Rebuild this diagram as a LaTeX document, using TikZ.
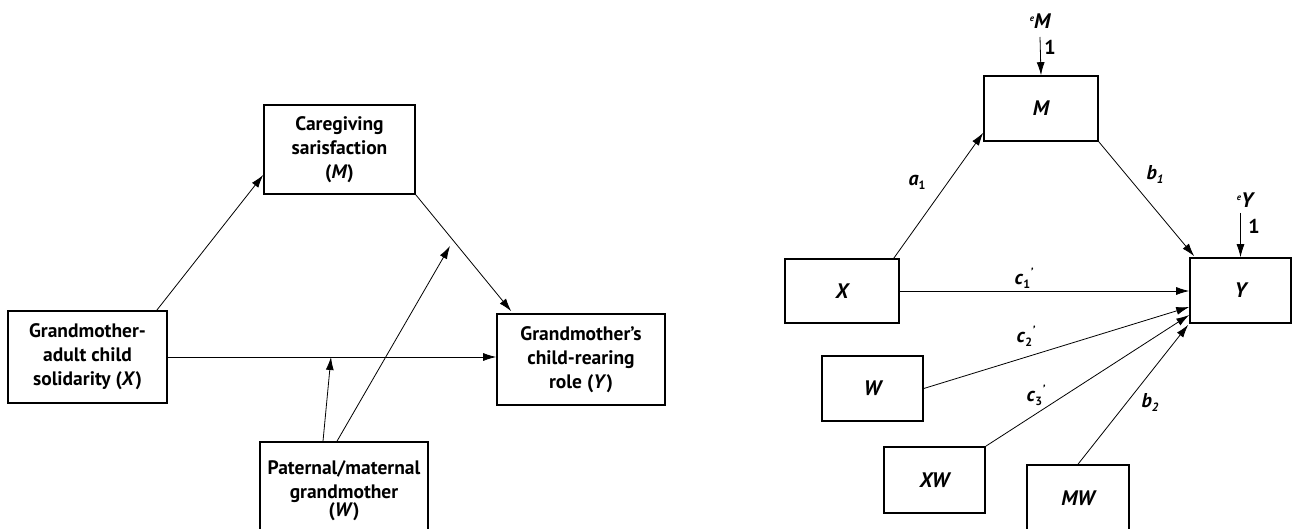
\documentclass[tikz,border=0pt]{standalone}
\usepackage{fontspec}
\setmainfont{PT Sans}
\usetikzlibrary{arrows.meta,calc}
\newcommand{\lbsub}[2]{\textit{#1}\raisebox{-4pt}{\fontsize{12}{12}\selectfont #2}}
\newcommand{\lbsubp}[2]{\textit{#1}\raisebox{-4pt}{\fontsize{12}{12}\selectfont #2}\raisebox{8pt}{\fontsize{12}{12}\selectfont\textit{'}}}
\begin{document}
\begin{tikzpicture}[x=1pt,y=-1pt,
  box/.style={draw,line width=1.6pt,rectangle,inner sep=0pt,align=center,
    font=\fontsize{19.5}{24}\selectfont\bfseries},
  rbox/.style={draw,line width=1.6pt,rectangle,inner sep=0pt,align=center,
    font=\fontsize{21}{24}\selectfont\bfseries\itshape},
  arr/.style={line width=0.8pt,-{Latex[length=13pt,width=8pt]}},
  lab/.style={inner sep=0pt,font=\fontsize{20}{22}\selectfont\bfseries}
]
\useasboundingbox (0,0) rectangle (1315,529);
\clip (0,0) rectangle (1315,529);

% ---------- left panel ----------
\node[box,minimum width=159pt,minimum height=92pt] (X) at (87.5,357)
  {Grandmother-\\adult child\\solidarity (\textit{X})};
\node[box,minimum width=151pt,minimum height=89pt] (M) at (339.5,149.5)
  {Caregiving\\sarisfaction\\(\textit{M})};
\node[box,minimum width=168pt,minimum height=91pt] (Y) at (581,359.5)
  {Grandmother’s\\child-rearing\\role (\textit{Y})};
\node[box,minimum width=168pt,minimum height=97pt] (W) at (344,490.5)
  {Paternal/maternal\\grandmother\\[-6pt](\textit{W})};

\coordinate (m1) at (331,357);
\coordinate (m2) at (450,246);

\draw[arr] ([xshift=-11pt]X.north east) -- ([yshift=-25.5pt]M.west);
\draw[arr] (M.south east) -- ([xshift=15pt,yshift=2pt]Y.north west);
\draw[arr] (X.east) -- (X.east -| Y.west);
\draw[arr] ([xshift=-21pt]W.north) -- (m1);
\draw[arr] ([xshift=-7pt]W.north) -- (m2);

% ---------- right panel ----------
\node[rbox,minimum width=114pt,minimum height=65pt] (M2) at (1041,108.5) {M};
\node[rbox,minimum width=114pt,minimum height=64pt] (X2) at (842,291) {X};
\node[rbox,minimum width=101pt,minimum height=65pt] (Y2) at (1240.5,290.5) {Y};
\node[rbox,minimum width=101pt,minimum height=65pt] (W2) at (872.5,388.5) {W};
\node[rbox,minimum width=101pt,minimum height=66pt] (XW) at (934.5,480) {XW};
\node[rbox,minimum width=102pt,minimum height=66pt] (MW) at (1078,498) {MW};

\node[lab,font=\fontsize{21}{22}\selectfont\bfseries\itshape] (eM) at (1040,21)
  {\raisebox{7pt}{\fontsize{9}{9}\selectfont e}M};
\coordinate (eMs) at (1040,37);
\draw[arr] (eMs) -- (M2.north);
\node[lab] (oneM) at (1050,47) {1};

\node[lab,font=\fontsize{21}{22}\selectfont\bfseries\itshape] (eY) at (1245,200)
  {\raisebox{7pt}{\fontsize{9}{9}\selectfont e}Y};
\coordinate (eYs) at (1240.5,213);
\draw[arr] (eYs) -- (Y2.north);
\node[lab] (oneY) at (1254,226) {1};

\draw[arr] ([xshift=-6pt]X2.north east) -- ([yshift=9pt]M2.south west);
\draw[arr] (M2.south east) -- ([xshift=5pt,yshift=1pt]Y2.north west);
\draw[arr] (X2.east) -- (X2.east -| Y2.west);
\draw[arr] (W2.east) -- ([yshift=-16.5pt]Y2.west);
\draw[arr] (XW.north east) -- ([yshift=-24.5pt]Y2.west);
\draw[arr] (MW.north) -- ([xshift=-1pt,yshift=-1pt]Y2.south west);

\node[lab] (la1) at (917,182) {\lbsub{a}{1}};
\node[lab] (lb1) at (1155,175) {\lbsub{b}{\textit{1}}};
\node[lab] (lc1) at (1024,278) {\lbsubp{c}{1}};
\node[lab] (lc2) at (1026,336) {\lbsubp{c}{2}};
\node[lab] (lc3) at (1036,395) {\lbsubp{c}{3}};
\node[lab] (lb2) at (1150,402) {\lbsub{b}{\textit{2}}};
\end{tikzpicture}
\end{document}
